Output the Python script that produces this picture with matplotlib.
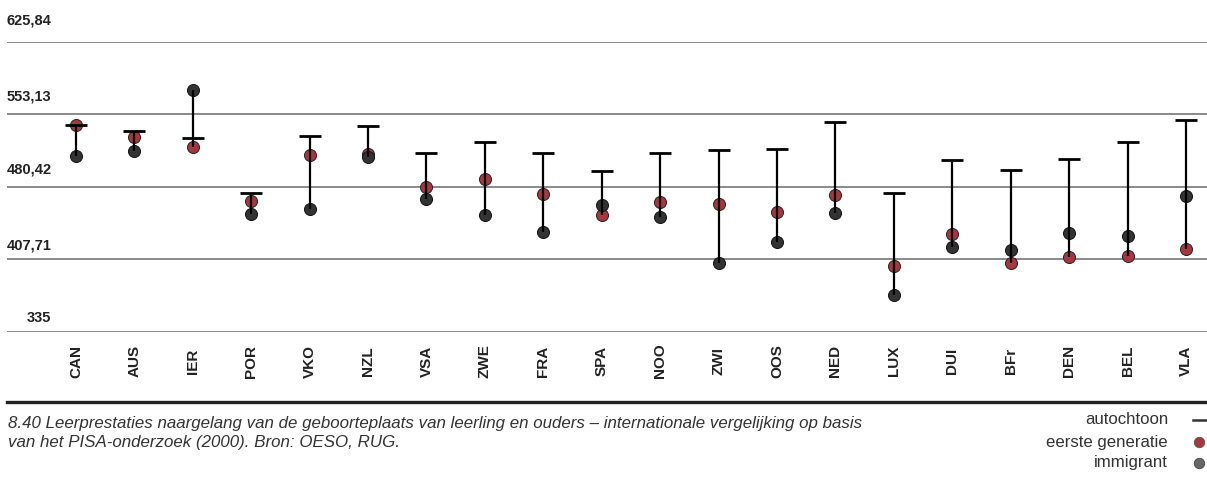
import numpy as np
import matplotlib.pyplot as plt

# data
landen = ['CAN', 'AUS', 'IER', 'POR', 'VKO', 'NZL', 'VSA', 'ZWE', 'FRA', 'SPA',
          'NOO', 'ZWI', 'OOS', 'NED', 'LUX', 'DUI', 'BFr', 'DEN', 'BEL', 'VLA']
autochtoon = [542.3, 536.6, 529.6, 473.8, 531.3, 541.0, 513.9, 525.5, 514.2, 496.2,
              514.2, 516.9, 518.2, 545.0, 474.4, 507.5, 497.2, 507.8, 524.9, 547.0]
eerste_gen = [542.8, 530.3, 520.5, 465.8, 512.2, 513.2, 479.8, 487.8, 472.8, 452.0,
              465.4, 463.4, 454.7, 472.4, 400.6, 433.3, 404.2, 409.9, 410.6, 417.9]
immigrant = [511.5, 516.2, 577.4, 452.7, 458.0, 510.5, 468.1, 452.0, 435.0, 462.1,
             450.3, 404.2, 424.7, 453.7, 371.8, 419.6, 416.6, 434.0, 431.3, 471.4]
yticks = [335, 407.71, 480.42, 553.13, 625.84]
ylabels = ['335', '407,71', '480,42', '553,13', '625,84']
label_offset = [6.7, 7, 10, 11, 14]  # px above grid line, as in the reference

caption = ('8.40 Leerprestaties naargelang van de geboorteplaats van leerling en ouders '
           '\u2013 internationale vergelijking op basis\n'
           'van het PISA-onderzoek (2000). Bron: OESO, RUG.')

RED = '#a8363e'
DARK = '#333333'
SANS = ['Liberation Sans', 'DejaVu Sans']

W, H = 1207, 480
fig = plt.figure(figsize=(W / 100, H / 100), dpi=100)
ax = fig.add_axes([7 / W, (H - 331.7) / H, 1 - 7 / W, (331.7 - 41.7) / H])
ax.set_ylim(335, 625.84)
ax.set_xlim(-1.18, 19.36)

x = np.arange(len(landen))
for yv in yticks:
    ax.axhline(yv, color='#6b6b6b', lw=1.1, zorder=1)

ax.scatter(x, eerste_gen, s=75, color=RED, edgecolor='#222222', lw=0.7, zorder=3)
ax.scatter(x, immigrant, s=75, color=DARK, edgecolor='#111111', lw=0.7, zorder=3)

lo = np.minimum(np.minimum(autochtoon, eerste_gen), immigrant)
hi = np.maximum(np.maximum(autochtoon, eerste_gen), immigrant)
ax.vlines(x, lo, hi, color='black', lw=1.6, zorder=4)
ax.scatter(x, autochtoon, marker='_', s=230, color='black', lw=2.0, zorder=5)

ax.set_xticks([])
ax.set_yticks([])
for s in ax.spines.values():
    s.set_visible(False)

# y labels sit above their grid lines
for yv, lab, off in zip(yticks, ylabels, label_offset):
    ax.annotate(lab, (0, yv), xycoords=('figure pixels', 'data'),
                xytext=(51.5 * 0.72, off * 0.72), textcoords='offset points',
                ha='right', va='bottom', fontsize=10.5, fontweight='bold',
                family=SANS, color='#222222')

# country labels
for xi, lab in zip(x, landen):
    ax.annotate(lab, (xi, 0), xycoords=('data', 'figure pixels'),
                xytext=(0, (H - 361) * 0.72), textcoords='offset points',
                rotation=90, ha='center', va='center', fontsize=11,
                fontweight='bold', family=SANS, color='#222222')

# caption rule and text
fig.add_artist(plt.Line2D([7 / W, 1], [(H - 402) / H] * 2, color='#222222', lw=2.4))
fig.text(8 / W, (H - 416) / H, caption, ha='left', va='top', fontsize=12.2,
         style='italic', color='#333333', linespacing=1.3, family=SANS)

# legend
leg_y = [420, 442, 463]
leg_txt = ['autochtoon', 'eerste generatie', 'immigrant']
for yy, t in zip(leg_y, leg_txt):
    fig.text(1168 / W, (H - yy) / H, t, ha='right', va='center', fontsize=12.1,
             color='#333333', family=SANS)
fig.add_artist(plt.Line2D([1193 / W, 1206 / W], [(H - 420) / H] * 2, color='#333333', lw=1.8))
fig.add_artist(plt.Line2D([1199 / W], [(H - 442) / H], marker='o', ms=7.5,
                          color=RED, mec='#555555', mew=0.6))
fig.add_artist(plt.Line2D([1199 / W], [(H - 463) / H], marker='o', ms=7.5,
                          color='#666666', mec='#444444', mew=0.6))

fig.savefig('out.png', dpi=100)
